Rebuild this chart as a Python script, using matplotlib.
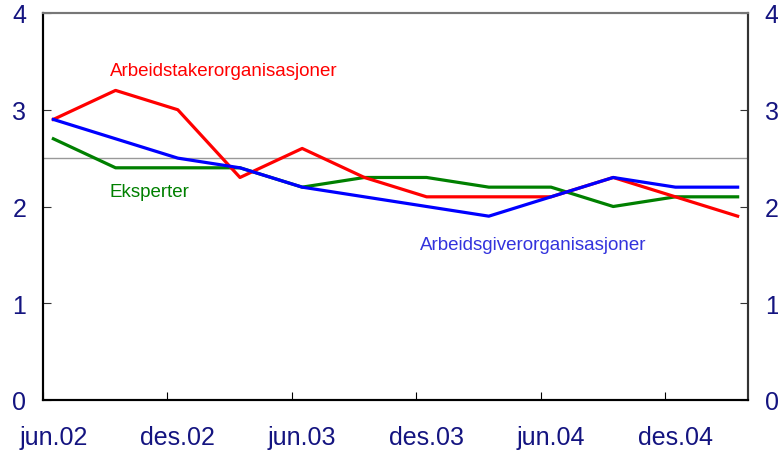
import numpy as np
import matplotlib.pyplot as plt

plt.rcParams['font.family'] = ['Liberation Sans', 'DejaVu Sans']

# kvartalsvis, jun.02 - sep.05 (months after jun.02, mid-month)
months = [0.5, 3.5, 6.5, 9.5, 12.5, 15.5, 18.5, 21.5, 24.5, 27.5, 30.5, 33.5]
arbeidstaker = [2.9, 3.2, 3.0, 2.3, 2.6, 2.3, 2.1, 2.1, 2.1, 2.3, 2.1, 1.9]
arbeidsgiver = [2.9, 2.7, 2.5, 2.4, 2.2, 2.1, 2.0, 1.9, 2.1, 2.3, 2.2, 2.2]
eksperter = [2.7, 2.4, 2.4, 2.4, 2.2, 2.3, 2.3, 2.2, 2.2, 2.0, 2.1, 2.1]

tick_pos = [0, 6, 12, 18, 24, 30]
tick_labels = ['jun.02', 'des.02', 'jun.03', 'des.03', 'jun.04', 'des.04']
target = 2.5

navy = '#141480'

fig = plt.figure(figsize=(7.78, 4.52), dpi=100)
ax = fig.add_axes([43/778, 51/452, 705/778, 387/452])

ax.axhline(target, color='#999999', lw=1, zorder=1)
ax.plot(months, eksperter, color='#008000', lw=2.3, zorder=3)
ax.plot(months, arbeidstaker, color='#ff0000', lw=2.3, zorder=4)
ax.plot(months, arbeidsgiver, color='#0000ff', lw=2.3, zorder=5)

ax.set_xlim(0, 34)
ax.set_ylim(0, 4)

ax.set_xticks(tick_pos)
ax.set_xticklabels([])
ax.set_xticks([p + 0.5 for p in tick_pos], minor=True)
ax.set_xticklabels(tick_labels, minor=True)
ax.tick_params(axis='x', which='major', direction='in', length=6, color='black')
ax.tick_params(axis='x', which='minor', length=0, pad=18, labelsize=18, labelcolor=navy)

ax.set_yticks([0, 1, 2, 3, 4])
ax.tick_params(axis='y', direction='in', length=6, color='#333333', pad=12,
               labelsize=18, labelcolor=navy)

ax2 = ax.twinx()
ax2.set_ylim(0, 4)
ax2.set_yticks([0, 1, 2, 3, 4])
ax2.tick_params(axis='y', direction='in', length=6, color='#333333', pad=12,
                labelsize=18, labelcolor=navy)

for a in (ax, ax2):
    a.spines['left'].set_color('black')
    a.spines['bottom'].set_color('black')
    a.spines['right'].set_color('#333333')
    a.spines['top'].set_color('#777777')
    for s in a.spines.values():
        s.set_linewidth(1.5)

ax.text(3.23, 3.36, 'Arbeidstakerorganisasjoner', color='#ff0000', fontsize=13.5, va='baseline')
ax.text(3.23, 2.11, 'Eksperter', color='#008000', fontsize=13.5, va='baseline')
ax.text(18.18, 1.56, 'Arbeidsgiverorganisasjoner', color='#3333dd', fontsize=13.5, va='baseline')

fig.savefig('out.png', dpi=100)
